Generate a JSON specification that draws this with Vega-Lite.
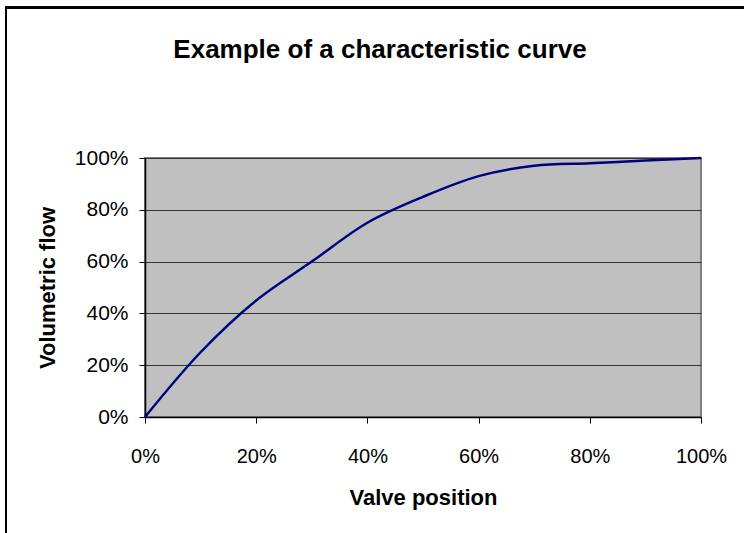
{
  "$schema": "https://vega.github.io/schema/vega-lite/v6.json",
  "width": 556,
  "height": 259,
  "autosize": {"type": "none"},
  "padding": {"left": 145, "top": 158, "right": 43, "bottom": 116},
  "background": "white",
  "config": {
    "font": "Liberation Sans",
    "view": {"fill": "#C0C0C0", "stroke": "#808080", "strokeWidth": 2}
  },
  "title": {
    "text": "Example of a characteristic curve",
    "fontSize": 26,
    "fontWeight": "bold",
    "color": "black",
    "font": "Liberation Sans",
    "anchor": "middle",
    "frame": "group",
    "baseline": "alphabetic",
    "offset": -77,
    "dx": -43
  },
  "data": {
    "values": [
      {"position": 0, "flow": 0},
      {"position": 0.1, "flow": 0.25},
      {"position": 0.2, "flow": 0.45},
      {"position": 0.3, "flow": 0.6},
      {"position": 0.4, "flow": 0.75},
      {"position": 0.5, "flow": 0.85},
      {"position": 0.6, "flow": 0.93},
      {"position": 0.7, "flow": 0.97},
      {"position": 0.8, "flow": 0.98},
      {"position": 0.9, "flow": 0.99},
      {"position": 1.0, "flow": 1.0}
    ]
  },
  "layer": [
    {
      "mark": {"type": "rect", "fill": null, "stroke": "black", "strokeWidth": 2, "clip": false},
      "encoding": {
        "x": {"datum": -0.25, "type": "quantitative", "scale": {"domain": [0, 1]}},
        "x2": {"datum": 1.27},
        "y": {"datum": 1.58, "type": "quantitative", "scale": {"domain": [0, 1]}},
        "y2": {"datum": -0.47}
      }
    },
    {
      "mark": {"type": "line", "color": "#000080", "strokeWidth": 2.5, "interpolate": "catmull-rom"},
      "encoding": {
        "x": {
          "field": "position",
          "type": "quantitative",
          "scale": {"domain": [0, 1], "nice": false, "zero": false},
          "axis": {
            "title": "Valve position",
            "format": ".0%",
            "values": [0, 0.2, 0.4, 0.6, 0.8, 1],
            "grid": false,
            "domainColor": "black",
            "domainWidth": 1.5,
            "tickColor": "black",
            "tickSize": 6,
            "labelFontSize": 20,
            "labelColor": "black",
            "labelBaseline": "alphabetic",
            "labelPadding": 39,
            "labelFlush": false,
            "titleFontSize": 22,
            "titleFontWeight": "bold",
            "titleColor": "black",
            "titleBaseline": "alphabetic",
            "titleY": 87
          }
        },
        "y": {
          "field": "flow",
          "type": "quantitative",
          "scale": {"domain": [0, 1], "nice": false, "zero": false},
          "axis": {
            "title": "Volumetric flow",
            "format": ".0%",
            "values": [0, 0.2, 0.4, 0.6, 0.8, 1],
            "grid": true,
            "gridColor": "#333333",
            "gridWidth": 1,
            "gridOpacity": 1,
            "domainColor": "black",
            "domainWidth": 1.5,
            "tickColor": "black",
            "tickSize": 6,
            "labelFontSize": 21,
            "labelColor": "black",
            "labelBaseline": "middle",
            "labelPadding": 11,
            "labelFlush": false,
            "titleFontSize": 22,
            "titleFontWeight": "bold",
            "titleColor": "black",
            "titleAngle": -90,
            "titleBaseline": "middle",
            "titleX": -98,
            "titleY": 129.5
          }
        }
      }
    }
  ]
}
